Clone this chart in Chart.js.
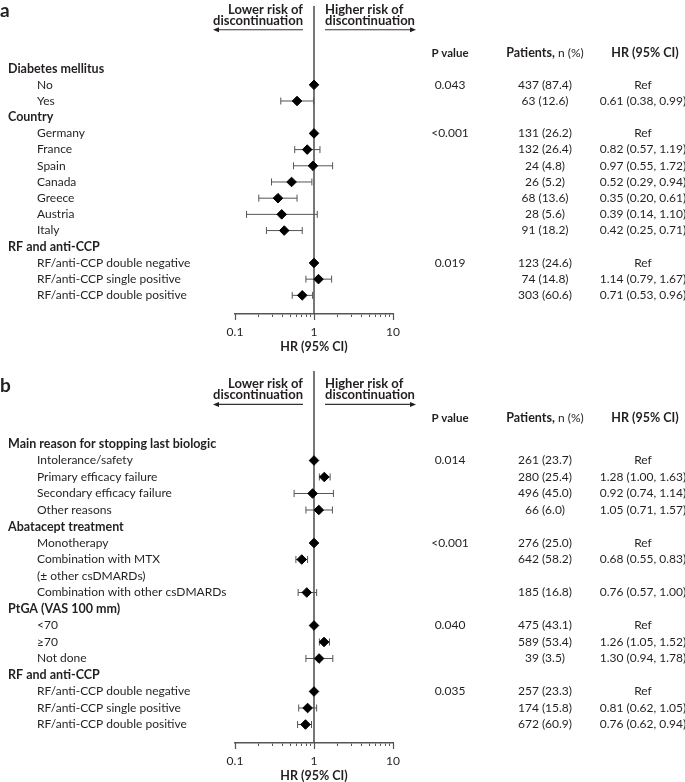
<!DOCTYPE html>
<html>
<head>
<meta charset="utf-8">
<script src="https://cdn.jsdelivr.net/npm/chart.js@4/dist/chart.umd.min.js"></script>
<style>
  body { margin: 0; background: #fff; }
  #painelA { position: absolute; left: 0; top: 0; }
  #painelB { position: absolute; left: 0; top: 360px; }
</style>
</head>
<body>
<canvas id="painelA" width="685" height="360"></canvas>
<canvas id="painelB" width="685" height="422"></canvas>
<script>
// ---- painel a ----
const rotulosA = ['Diabetes mellitus', 'No', 'Yes', 'Country', 'Germany', 'France', 'Spain', 'Canada', 'Greece', 'Austria', 'Italy',
    'RF and anti-CCP', 'RF/anti-CCP double negative', 'RF/anti-CCP single positive', 'RF/anti-CCP double positive'];
const titulosA = [true, false, false, true, false, false, false, false, false, false, false, true, false, false, false];
const valorPA = ['', '0.043', '', '', '<0.001', '', '', '', '', '', '', '', '0.019', '', ''];
const pacientesA = ['', '437 (87.4)', '63 (12.6)', '', '131 (26.2)', '132 (26.4)', '24 (4.8)', '26 (5.2)', '68 (13.6)', '28 (5.6)', '91 (18.2)',
    '', '123 (24.6)', '74 (14.8)', '303 (60.6)'];
const textoHRA = ['', 'Ref', '0.61 (0.38, 0.99)', '', 'Ref', '0.82 (0.57, 1.19)', '0.97 (0.55, 1.72)', '0.52 (0.29, 0.94)', '0.35 (0.20, 0.61)',
    '0.39 (0.14, 1.10)', '0.42 (0.25, 0.71)', '', 'Ref', '1.14 (0.79, 1.67)', '0.71 (0.53, 0.96)'];
const hrA = [null, 1, 0.61, null, 1, 0.82, 0.97, 0.52, 0.35, 0.39, 0.42, null, 1, 1.14, 0.71];
const icBaixoA = [null, null, 0.38, null, null, 0.57, 0.55, 0.29, 0.20, 0.14, 0.25, null, null, 0.79, 0.53];
const icAltoA = [null, null, 0.99, null, null, 1.19, 1.72, 0.94, 0.61, 1.10, 0.71, null, null, 1.67, 0.96];

// ---- painel b ----
const rotulosB = ['Main reason for stopping last biologic', 'Intolerance/safety', 'Primary efficacy failure', 'Secondary efficacy failure',
    'Other reasons', 'Abatacept treatment', 'Monotherapy', 'Combination with MTX', '(\u00b1 other csDMARDs)', 'Combination with other csDMARDs',
    'PtGA (VAS 100 mm)', '<70', '\u226570', 'Not done', 'RF and anti-CCP', 'RF/anti-CCP double negative', 'RF/anti-CCP single positive',
    'RF/anti-CCP double positive'];
const titulosB = [true, false, false, false, false, true, false, false, false, false, true, false, false, false, true, false, false, false];
const valorPB = ['', '0.014', '', '', '', '', '<0.001', '', '', '', '', '0.040', '', '', '', '0.035', '', ''];
const pacientesB = ['', '261 (23.7)', '280 (25.4)', '496 (45.0)', '66 (6.0)', '', '276 (25.0)', '642 (58.2)', '', '185 (16.8)',
    '', '475 (43.1)', '589 (53.4)', '39 (3.5)', '', '257 (23.3)', '174 (15.8)', '672 (60.9)'];
const textoHRB = ['', 'Ref', '1.28 (1.00, 1.63)', '0.92 (0.74, 1.14)', '1.05 (0.71, 1.57)', '', 'Ref', '0.68 (0.55, 0.83)', '',
    '0.76 (0.57, 1.00)', '', 'Ref', '1.26 (1.05, 1.52)', '1.30 (0.94, 1.78)', '', 'Ref', '0.81 (0.62, 1.05)', '0.76 (0.62, 0.94)'];
// posicoes (nem sempre batem com o texto)
const hrB = [null, 1, 1.35, 0.96, 1.15, null, 1, 0.70, null, 0.81, null, 1, 1.34, 1.16, null, 1, 0.83, 0.78];
const icBaixoB = [null, null, 1.17, 0.56, 0.79, null, null, 0.59, null, 0.63, null, null, 1.17, 0.79, null, null, 0.64, 0.62];
const icAltoB = [null, null, 1.60, 1.76, 1.71, null, null, 0.83, null, 1.08, null, null, 1.57, 1.73, null, null, 1.08, 0.93];

// eixo
const ticksEixo = [0.1, 0.2, 0.3, 0.4, 0.5, 0.6, 0.7, 0.8, 0.9, 1, 2, 3, 4, 5, 6, 7, 8, 9, 10];
const ticksComRotulo = [0.1, 1, 10];

const fonte = 'Lato, "Open Sans", sans-serif';
const corTexto = '#231f20';
const corEixo = '#555';
const fonteNormal = '12px ' + fonte;
const fonteNegrito = 'bold 12.5px ' + fonte;

function seta(ctx, x1, x2, y) {
    const dir = x2 > x1 ? 1 : -1;
    ctx.beginPath();
    ctx.moveTo(x1, y);
    ctx.lineTo(x2 - dir * 4, y);
    ctx.stroke();
    ctx.beginPath();
    ctx.moveTo(x2, y);
    ctx.lineTo(x2 - dir * 6, y - 2.5);
    ctx.lineTo(x2 - dir * 6, y + 2.5);
    ctx.closePath();
    ctx.fill();
}

function desenharTextos(chart, cfg) {
    const ctx = chart.ctx;
    const ys = chart.scales.y;
    const xs = chart.scales.x;
    const py = v => ys.getPixelForValue(v);
    const um = xs.getPixelForValue(1);

    ctx.save();
    ctx.fillStyle = corTexto;
    ctx.strokeStyle = '#333';
    ctx.lineWidth = 1.2;
    ctx.textBaseline = 'middle';

    ctx.font = 'bold 19px ' + fonte;
    ctx.textAlign = 'left';
    ctx.fillText(cfg.letra, 0, py(-3.55));

    ctx.font = 'bold 13px ' + fonte;
    ctx.textAlign = 'right';
    ctx.fillText('Lower risk of', um - 11, py(-3.62));
    ctx.fillText('discontinuation', um - 11, py(-2.97));
    ctx.textAlign = 'left';
    ctx.fillText('Higher risk of', um + 11, py(-3.62));
    ctx.fillText('discontinuation', um + 11, py(-2.97));
    seta(ctx, um - 11, 213, py(-2.4));
    seta(ctx, um + 11, 416, py(-2.4));

    // cabecalho das colunas
    const yc = py(cfg.linhaCabecalho);
    ctx.textAlign = 'center';
    ctx.font = 'bold 11.5px ' + fonte;
    ctx.fillText('P value', 450, yc);
    ctx.font = fonteNegrito;
    ctx.fillText('HR (95% CI)', 645, yc);
    const parte1 = 'Patients,';
    const w1 = ctx.measureText(parte1).width;
    ctx.font = fonteNormal;
    const parte2 = ' n (%)';
    const w2 = ctx.measureText(parte2).width;
    const x0 = 545 - (w1 + w2) / 2;
    ctx.textAlign = 'left';
    ctx.fillText(parte2, x0 + w1, yc);
    ctx.font = fonteNegrito;
    ctx.fillText(parte1, x0, yc);

    // linhas
    cfg.rotulos.forEach((r, i) => {
        const y = py(i);
        ctx.textAlign = 'left';
        if (cfg.titulos[i]) {
            ctx.font = fonteNegrito;
            ctx.fillText(r, 8, y);
        } else {
            ctx.font = fonteNormal;
            ctx.fillText(r, 37, y);
        }
        ctx.font = fonteNormal;
        ctx.textAlign = 'center';
        if (cfg.valorP[i]) ctx.fillText(cfg.valorP[i], 450, y);
        if (cfg.pacientes[i]) ctx.fillText(cfg.pacientes[i], 545, y);
        if (cfg.textoHR[i]) ctx.fillText(cfg.textoHR[i], 643, y);
    });

    // titulo do eixo
    ctx.font = fonteNegrito;
    ctx.textAlign = 'center';
    ctx.fillText('HR (95% CI)', um, xs.top + 33);

    // ticks maiores
    ctx.strokeStyle = corEixo;
    ctx.lineWidth = 1.2;
    ticksComRotulo.forEach(v => {
        const x = Math.round(xs.getPixelForValue(v)) + 0.5;
        ctx.beginPath();
        ctx.moveTo(x, xs.top);
        ctx.lineTo(x, xs.top + 6);
        ctx.stroke();
    });
    ctx.restore();
}

function montarGrafico(id, cfg) {
    const datasets = [];

    const pontos = [];
    cfg.hr.forEach((v, i) => { if (v != null) pontos.push({ x: v, y: i }); });
    datasets.push({
        data: pontos,
        order: 0,
        pointStyle: 'rectRot',
        pointRadius: 4.8,
        pointBackgroundColor: '#000',
        pointBorderColor: '#000',
        pointBorderWidth: 1
    });

    cfg.icBaixo.forEach((lo, i) => {
        if (lo == null) return;
        datasets.push({
            data: [{ x: lo, y: i }, { x: cfg.icAlto[i], y: i }],
            order: 1,
            showLine: true,
            borderColor: corEixo,
            borderWidth: 1,
            pointStyle: 'line',
            rotation: 90,
            pointRadius: 3.5,
            pointBorderColor: corEixo,
            pointBorderWidth: 1
        });
    });

    datasets.push({
        data: [{ x: 1, y: cfg.yMin }, { x: 1, y: cfg.yMax }],
        order: 2,
        showLine: true,
        borderColor: corEixo,
        borderWidth: 1.6,
        pointRadius: 0
    });

    return new Chart(document.getElementById(id), {
        type: 'scatter',
        data: { datasets: datasets },
        options: {
            animation: false,
            responsive: false,
            events: [],
            layout: { padding: { left: 235, right: 292, top: cfg.topo, bottom: 0 } },
            plugins: { legend: { display: false }, tooltip: { enabled: false } },
            scales: {
                x: {
                    type: 'logarithmic',
                    min: 0.1,
                    max: 10,
                    afterBuildTicks: s => { s.ticks = ticksEixo.map(v => ({ value: v })); },
                    afterFit: s => { s.height = cfg.alturaEixo; },
                    ticks: {
                        autoSkip: false,
                        maxRotation: 0,
                        padding: 8,
                        color: corTexto,
                        font: { family: fonte, size: 12 },
                        callback: v => ticksComRotulo.includes(v) ? String(v) : ''
                    },
                    grid: { drawOnChartArea: false, drawTicks: true, tickLength: 3, color: corEixo, lineWidth: 1 },
                    border: { display: true, color: corEixo, width: 1.5 }
                },
                y: { type: 'linear', reverse: true, min: cfg.yMin, max: cfg.yMax, display: false }
            }
        },
        plugins: [{ id: 'textos', afterDraw: chart => desenharTextos(chart, cfg) }]
    });
}

montarGrafico('painelA', {
    letra: 'a', rotulos: rotulosA, titulos: titulosA, valorP: valorPA, pacientes: pacientesA, textoHR: textoHRA,
    hr: hrA, icBaixo: icBaixoA, icAlto: icAltoA,
    topo: 0, alturaEixo: 46, yMin: -3.879, yMax: 15.152, linhaCabecalho: -0.97
});

montarGrafico('painelB', {
    letra: 'b', rotulos: rotulosB, titulos: titulosB, valorP: valorPB, pacientes: pacientesB, textoHR: textoHRB,
    hr: hrB, icBaixo: icBaixoB, icAlto: icAltoB,
    topo: 11, alturaEixo: 39, yMin: -4.424, yMax: 18.121, linhaCabecalho: -1.56
});
</script>
</body>
</html>
